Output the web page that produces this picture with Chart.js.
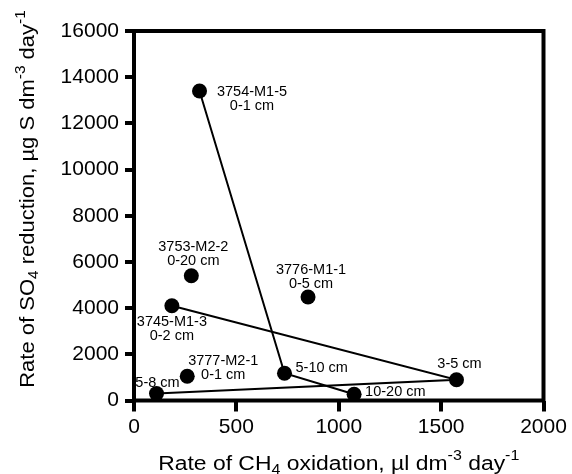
<!DOCTYPE html>
<html><head><meta charset="utf-8">
<script src="https://cdn.jsdelivr.net/npm/chart.js@4/dist/chart.umd.min.js"></script>
<style>html,body{margin:0;padding:0;background:#fff;} #wrap{width:572px;height:474px;position:relative;}</style>
</head><body><div id="wrap"><canvas id="c" width="572" height="474"></canvas></div>
<script>
const FONT = '"Liberation Sans", Arial, Helvetica, sans-serif';

// ---- data ----
const xTicks = [0, 500, 1000, 1500, 2000];
const yTicks = [0, 2000, 4000, 6000, 8000, 10000, 12000, 14000, 16000];

const coreA_x = [320, 735, 1075];
const coreA_y = [13400, 1180, 270];
const coreA_labels = [["3754-M1-5", "0-1 cm"], ["5-10 cm"], ["10-20 cm"]];

const coreB_x = [185, 1575, 110];
const coreB_y = [4100, 900, 300];
const coreB_labels = [["3745-M1-3", "0-2 cm"], ["3-5 cm"], ["5-8 cm"]];

const single_x = [280, 850, 260];
const single_y = [5400, 4480, 1050];
const single_labels = [["3753-M2-2", "0-20 cm"], ["3776-M1-1", "0-5 cm"], ["3777-M2-1", "0-1 cm"]];

const xTitle = [["Rate of CH", 0], ["4", -1], [" oxidation, \u00b5l dm", 0], ["-3", 1], [" day", 0], ["-1", 1]];
const yTitle = [["Rate of SO", 0], ["4", -1], [" reduction, \u00b5g S dm", 0], ["-3", 1], [" day", 0], ["-1", 1]];

// ---- label placement (pixel offsets from each point: dx, dy, align) ----
const coreA_place = [[52.5, 1, "center"], [11, -5, "left"], [11, -2, "left"]];
const coreB_place = [[0, 16, "center"], [3, -16, "center"], [1, -11, "center"]];
const single_place = [[2, -29, "center"], [3, -27, "center"], [36, -15, "center"]];

function pts(xs, ys) { return xs.map((x, i) => ({ x: x, y: ys[i] })); }

const ds = (xs, ys, line, labels, place) => ({
  data: pts(xs, ys),
  showLine: line,
  borderColor: "#000",
  backgroundColor: "#000",
  borderWidth: 2,
  pointRadius: 7.5,
  pointHoverRadius: 7.5,
  pointBorderWidth: 0,
  labelsText: labels,
  labelsPlace: place
});

function drawRich(ctx, segs, size) {
  const small = size * 0.7;
  let total = 0;
  const w = segs.map(s => {
    ctx.font = (s[1] ? small : size) + "px " + FONT;
    const m = ctx.measureText(s[0]).width;
    total += m;
    return m;
  });
  let x = -total / 2;
  segs.forEach((s, i) => {
    ctx.font = (s[1] ? small : size) + "px " + FONT;
    const dy = s[1] === 1 ? -size * 0.46 : (s[1] === -1 ? size * 0.22 : 0);
    ctx.fillText(s[0], x, dy);
    x += w[i];
  });
}

const decor = {
  id: "decor",
  afterDatasetsDraw(chart) {
    const ctx = chart.ctx;
    const a = chart.chartArea;
    ctx.save();
    // labels
    ctx.fillStyle = "#000";
    ctx.font = "14.5px " + FONT;
    ctx.textBaseline = "middle";
    chart.data.datasets.forEach((d, di) => {
      const meta = chart.getDatasetMeta(di);
      meta.data.forEach((el, i) => {
        const lab = d.labelsText[i];
        const pl = d.labelsPlace[i];
        ctx.textAlign = pl[2];
        lab.forEach((t, k) => ctx.fillText(t, el.x + pl[0], el.y + pl[1] + k * 13.8));
      });
    });
    // frame
    ctx.strokeStyle = "#000";
    ctx.lineWidth = 4;
    ctx.strokeRect(a.left, a.top, a.right - a.left, a.bottom - a.top);
    // axis titles
    ctx.textAlign = "left";
    ctx.textBaseline = "alphabetic";
    ctx.save();
    ctx.translate((a.left + a.right) / 2, 469.5);
    ctx.scale(1.145, 1);
    drawRich(ctx, xTitle, 20);
    ctx.restore();
    ctx.save();
    ctx.translate(34, 199);
    ctx.rotate(-Math.PI / 2);
    ctx.scale(1.1, 1);
    drawRich(ctx, yTitle, 20);
    ctx.restore();
    ctx.restore();
  }
};

new Chart(document.getElementById("c"), {
  type: "scatter",
  data: {
    datasets: [
      ds(coreA_x, coreA_y, true, coreA_labels, coreA_place),
      ds(coreB_x, coreB_y, true, coreB_labels, coreB_place),
      ds(single_x, single_y, false, single_labels, single_place)
    ]
  },
  options: {
    responsive: false,
    animation: false,
    events: [],
    layout: { padding: { left: 0, top: 31, right: 28.5, bottom: 0 } },
    plugins: { legend: { display: false }, tooltip: { enabled: false } },
    scales: {
      x: {
        type: "linear",
        min: 0, max: 2000,
        afterBuildTicks: s => { s.ticks = xTicks.map(v => ({ value: v })); },
        afterFit: s => { s.height = 73.5; },
        border: { display: false },
        grid: { drawOnChartArea: false, drawTicks: true, tickLength: 11, lineWidth: 4, color: "#000" },
        ticks: { color: "#000", padding: 3, maxRotation: 0, font: { family: FONT, size: 21 }, callback: v => String(v) },
        title: { display: false }
      },
      y: {
        type: "linear",
        min: 0, max: 16000,
        afterBuildTicks: s => { s.ticks = yTicks.map(v => ({ value: v })); },
        afterFit: s => { s.width = 134; },
        border: { display: false },
        grid: { drawOnChartArea: false, drawTicks: true, tickLength: 9, lineWidth: 4, color: "#000" },
        ticks: { color: "#000", padding: 6, font: { family: FONT, size: 21 }, callback: v => String(v) },
        title: { display: false }
      }
    }
  },
  plugins: [decor]
});
</script>
</body></html>
